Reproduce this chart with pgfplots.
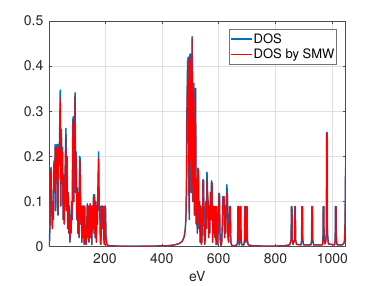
\documentclass[border=0pt]{standalone}
\usepackage{pgfplots}
\pgfplotsset{compat=1.18}
\usepackage{pgfplotstable}
\usepackage{fontspec}
\setmainfont{TeX Gyre Heros}
\definecolor{mblue}{rgb}{0,0.447,0.741}
\pgfplotstableread{
x b r
3 0.002 0.002
5 0.01 0.01
7 0.05 0.05
9 0.17 0.165
11 0.175 0.17
13 0.09 0.09
15 0.04 0.04
17 0.10 0.10
19 0.06 0.06
21 0.19 0.185
23 0.12 0.12
25 0.226 0.22
27 0.08 0.08
29 0.226 0.22
31 0.15 0.15
33 0.226 0.22
35 0.07 0.07
37 0.226 0.22
39 0.18 0.18
41 0.26 0.255
43 0.347 0.33
45 0.09 0.09
47 0.26 0.25
49 0.14 0.14
51 0.22 0.21
53 0.06 0.06
55 0.16 0.155
57 0.05 0.05
59 0.12 0.12
61 0.20 0.20
63 0.262 0.245
65 0.08 0.08
67 0.20 0.20
69 0.04 0.04
71 0.12 0.12
73 0.03 0.03
75 0.09 0.09
77 0.01 0.01
79 0.06 0.06
81 0.03 0.03
83 0.10 0.10
85 0.06 0.06
87 0.28 0.27
89 0.288 0.28
91 0.10 0.10
93 0.25 0.24
95 0.341 0.335
97 0.12 0.12
99 0.21 0.20
101 0.06 0.06
103 0.13 0.13
105 0.03 0.03
107 0.12 0.12
109 0.02 0.02
111 0.20 0.19
113 0.195 0.19
115 0.05 0.05
117 0.09 0.09
119 0.01 0.01
121 0.09 0.09
123 0.02 0.02
125 0.09 0.09
127 0.005 0.005
129 0.09 0.09
131 0.01 0.01
134 0.005 0.005
136 0.04 0.04
138 0.095 0.095
140 0.02 0.02
142 0.09 0.09
144 0.01 0.01
146 0.06 0.06
148 0.095 0.095
150 0.02 0.02
152 0.09 0.09
154 0.005 0.005
156 0.09 0.09
158 0.04 0.04
160 0.115 0.115
162 0.03 0.03
164 0.115 0.11
166 0.02 0.02
168 0.10 0.10
170 0.01 0.01
172 0.09 0.09
174 0.05 0.05
176 0.15 0.15
178 0.21 0.195
180 0.08 0.08
182 0.09 0.09
184 0.01 0.01
186 0.005 0.005
188 0.09 0.09
190 0.04 0.04
192 0.09 0.09
194 0.088 0.088
196 0.02 0.02
198 0.005 0.005
200 0.09 0.09
202 0.088 0.088
204 0.02 0.02
206 0.006 0.006
210 0.003 0.003
220 0.002 0.002
260 0.001 0.001
320 0.001 0.001
380 0.0015 0.0015
420 0.002 0.002
445 0.004 0.004
462 0.007 0.007
472 0.012 0.012
478 0.02 0.02
482 0.035 0.035
485 0.06 0.06
487 0.15 0.14
489 0.33 0.32
491 0.41 0.40
493 0.42 0.41
495 0.15 0.15
497 0.06 0.06
499 0.425 0.42
501 0.427 0.42
503 0.12 0.12
505 0.30 0.30
507 0.465 0.46
509 0.10 0.10
511 0.20 0.20
513 0.362 0.345
515 0.07 0.07
517 0.25 0.25
519 0.351 0.35
521 0.05 0.05
523 0.15 0.15
525 0.03 0.03
527 0.174 0.17
529 0.172 0.17
531 0.04 0.04
533 0.10 0.10
535 0.01 0.01
537 0.09 0.09
539 0.005 0.005
541 0.01 0.01
543 0.06 0.06
545 0.148 0.145
547 0.148 0.145
549 0.03 0.03
551 0.005 0.005
553 0.02 0.02
555 0.10 0.10
557 0.04 0.04
559 0.165 0.15
561 0.12 0.12
563 0.10 0.10
565 0.02 0.02
567 0.09 0.09
569 0.03 0.03
571 0.12 0.12
573 0.06 0.06
575 0.146 0.145
577 0.14 0.14
579 0.01 0.01
581 0.09 0.09
583 0.03 0.03
585 0.089 0.089
587 0.02 0.02
589 0.089 0.089
591 0.005 0.005
593 0.089 0.089
595 0.01 0.01
597 0.005 0.005
599 0.06 0.06
601 0.118 0.115
603 0.118 0.115
605 0.02 0.02
607 0.005 0.005
609 0.003 0.003
611 0.01 0.01
613 0.05 0.05
615 0.111 0.11
617 0.09 0.09
619 0.111 0.11
621 0.02 0.02
623 0.09 0.09
625 0.03 0.03
627 0.10 0.10
629 0.137 0.12
631 0.11 0.11
633 0.02 0.02
635 0.01 0.01
637 0.05 0.05
639 0.089 0.089
641 0.089 0.089
643 0.01 0.01
646 0.003 0.003
655 0.002 0.002
665 0.004 0.004
667 0.015 0.015
668 0.089 0.089
670 0.089 0.089
671 0.015 0.015
673 0.004 0.004
675 0.015 0.015
676 0.089 0.089
678 0.089 0.089
679 0.015 0.015
682 0.004 0.004
689 0.004 0.004
691 0.015 0.015
692 0.089 0.089
694 0.089 0.089
695 0.015 0.015
696 0.01 0.01
697 0.015 0.015
698 0.089 0.089
700 0.089 0.089
701 0.015 0.015
704 0.004 0.004
720 0.002 0.002
780 0.001 0.001
830 0.002 0.002
850 0.004 0.004
855 0.015 0.015
856 0.089 0.089
858 0.089 0.089
859 0.015 0.015
862 0.005 0.005
867 0.015 0.015
868 0.089 0.089
870 0.089 0.089
871 0.015 0.015
874 0.005 0.005
890 0.004 0.004
892 0.015 0.015
893 0.089 0.089
895 0.089 0.089
896 0.015 0.015
899 0.004 0.004
925 0.004 0.004
927 0.015 0.015
928 0.089 0.089
930 0.089 0.089
931 0.015 0.015
934 0.004 0.004
965 0.004 0.004
967 0.015 0.015
968 0.089 0.089
970 0.089 0.089
971 0.015 0.015
974 0.006 0.006
977 0.012 0.012
979 0.03 0.03
980 0.253 0.25
982 0.253 0.25
983 0.03 0.03
986 0.006 0.006
1008 0.004 0.004
1010 0.015 0.015
1011 0.089 0.089
1013 0.089 0.089
1014 0.015 0.015
1017 0.004 0.004
1035 0.004 0.004
1041 0.008 0.008
1043 0.015 0.015
1045 0.06 0.06
1046 0.15 0.15
1047 0.177 0.177
}\dos
\begin{document}
\begin{tikzpicture}
\begin{axis}[
  name=ax,
  scale only axis,
  width=296.8pt, height=225.7pt,
  xmin=3, xmax=1047, ymin=0, ymax=0.5,
  xtick={200,400,600,800,1000},
  ytick={0,0.1,0.2,0.3,0.4,0.5},
  scaled ticks=false,
  /pgf/number format/1000 sep={},
  /pgf/number format/assume math mode=true,
  yticklabel style={/pgf/number format/fixed,/pgf/number format/precision=1, xshift=-2pt},
  xticklabel style={yshift=-3pt},
  ticklabel style={font=\fontsize{14}{16}\selectfont, color=black!85},
  grid=major,
  grid style={color=black!12, line width=0.4pt},
  axis line style={color=black!70, line width=0.5pt},
  tick style={color=black!70, line width=0.5pt},
  major tick length=3pt,
  tick align=inside,
  xlabel={eV},
  xlabel style={font=\fontsize{14}{16}\selectfont, color=black!85, yshift=-1pt},
  legend cell align=left,
  legend image code/.code={\draw[#1] (0pt,0pt) -- (21pt,0pt);},
  legend style={at={(1,1)}, anchor=north east, xshift=-9pt, yshift=-8.3pt,
    draw=black!55, line width=0.5pt, font=\fontsize{13}{15}\selectfont,
    inner xsep=1pt, inner ysep=2pt, row sep=0.5pt,
    nodes={inner xsep=1pt}},
]
\addplot[color=mblue, line width=1.5pt, line join=round] table[x=x, y=b] {\dos};
\addlegendentry{DOS}
\addplot[color=red, line width=0.9pt, line join=round] table[x=x, y=r] {\dos};
\addlegendentry{DOS by SMW}
\end{axis}
\path ([xshift=-48.9pt, yshift=-39.3pt]ax.south west) rectangle ([xshift=36.3pt, yshift=21pt]ax.north east);
\end{tikzpicture}
\end{document}
